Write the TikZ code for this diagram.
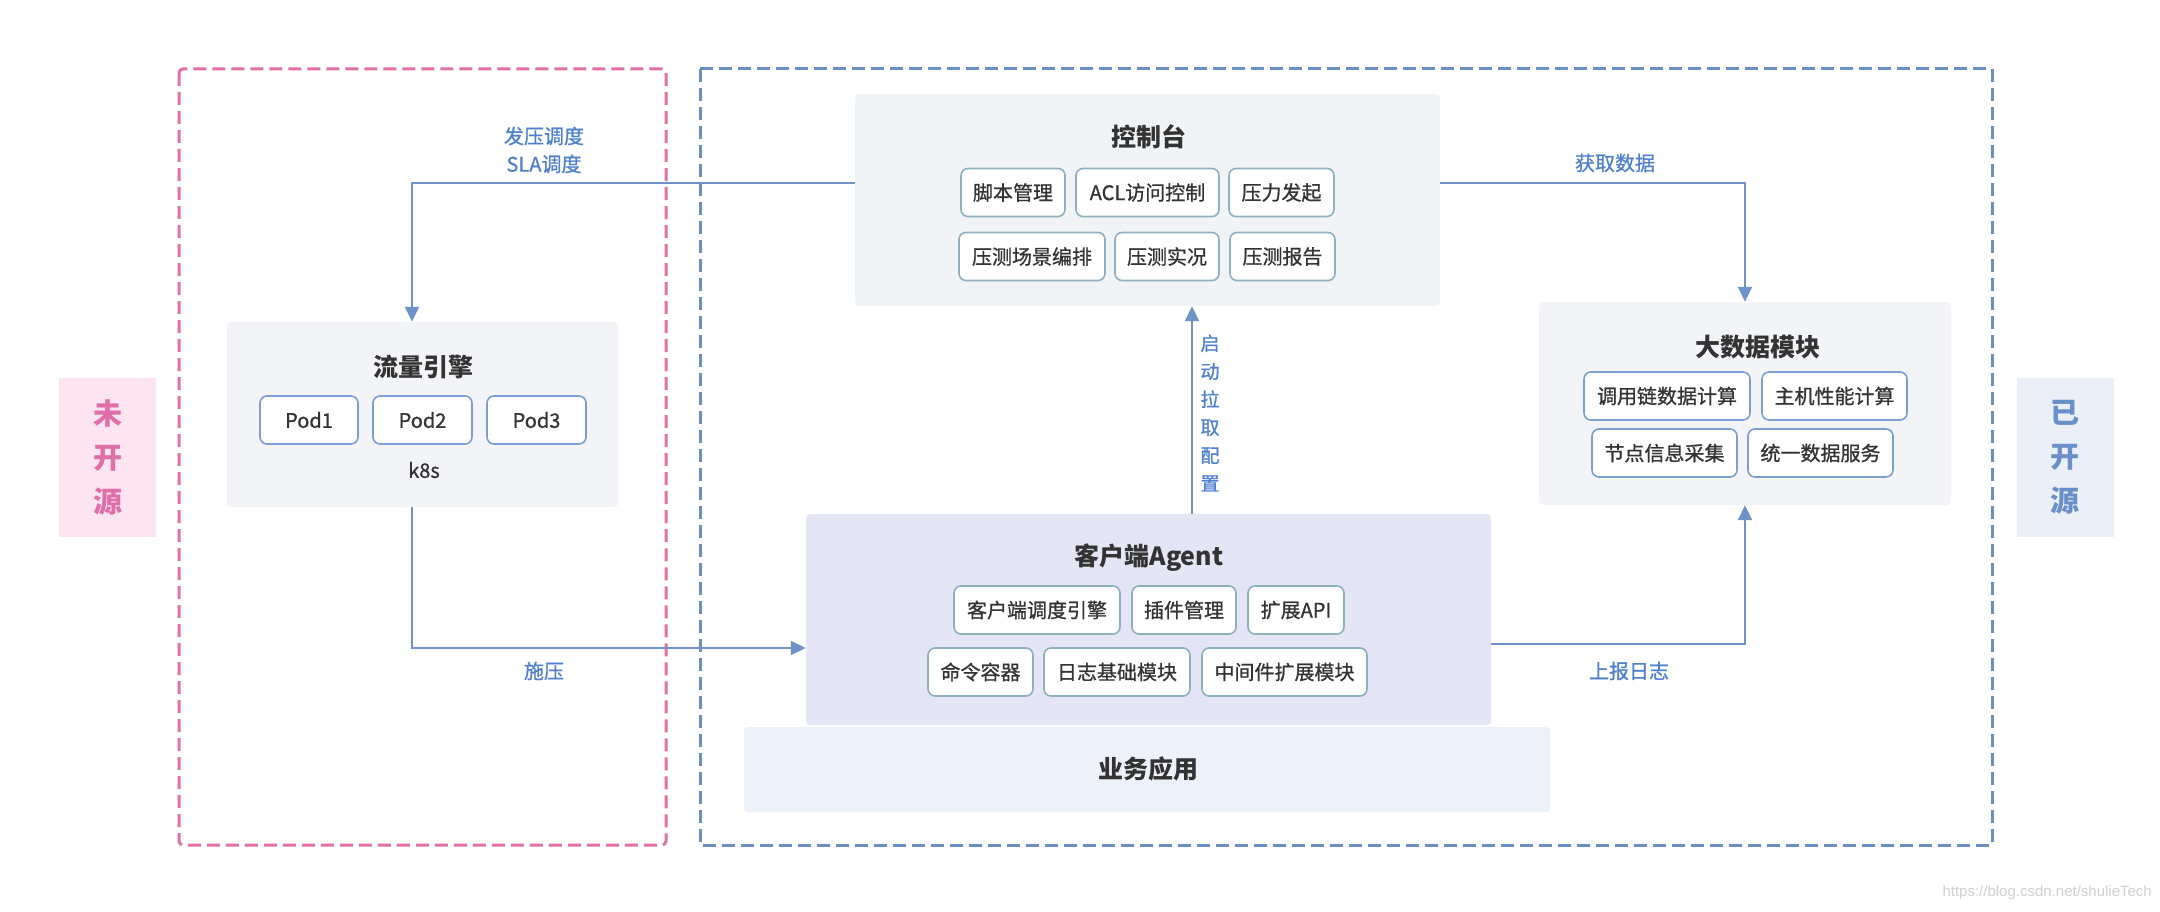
\documentclass[tikz,border=0pt]{standalone}
\usepackage{fontspec}
\setmainfont{Noto Sans CJK SC}
\newfontfamily\medfont[FakeBold=0.9]{Noto Sans CJK SC}
\newfontfamily\wmfont{Liberation Sans}
\usetikzlibrary{arrows.meta}
\definecolor{pinkline}{HTML}{E26FA5}
\definecolor{pinkfill}{HTML}{FCE4F0}
\definecolor{pinktext}{HTML}{E06FA8}
\definecolor{blueline}{HTML}{6A8FC4}
\definecolor{bluefill}{HTML}{EBF0F8}
\definecolor{bluetext}{HTML}{6B8FC8}
\definecolor{conncol}{HTML}{6F93C8}
\definecolor{labcol}{HTML}{4F80D0}
\definecolor{ctrlfill}{HTML}{F1F4F7}
\definecolor{grayfill}{HTML}{F3F4F8}
\definecolor{agentfill}{HTML}{E4E5F5}
\definecolor{bizfill}{HTML}{EDF1F9}
\definecolor{tealbd}{HTML}{8DB0C0}
\definecolor{bluebd}{HTML}{7A9FD0}
\definecolor{txt}{HTML}{333333}
\definecolor{wmgray}{HTML}{D0D0D0}
\begin{document}
\begin{tikzpicture}[x=1pt,y=-1pt,
  panel/.style={draw=none, rounded corners=4pt, inner sep=0pt},
  subbox/.style={fill=white, line width=1.6pt, rounded corners=7pt, minimum height=48pt, inner sep=0pt, text=txt, font=\medfont\fontsize{20}{20}\selectfont},
  tsub/.style={subbox, draw=tealbd},
  bsub/.style={subbox, draw=bluebd},
  title/.style={text=txt, inner sep=0pt, font=\fontsize{25}{25}\selectfont\bfseries},
  lab/.style={text=labcol, inner sep=0pt, align=center, font=\medfont\fontsize{20}{28}\selectfont},
  conn/.style={draw=conncol, line width=1.8pt, -{Triangle[width=14pt,length=15pt]}},
  side/.style={inner sep=0pt, minimum width=97pt, minimum height=159pt, align=center, font=\fontsize{29}{44}\selectfont\bfseries}
]
\useasboundingbox (0,0) rectangle (2160,912);
\fill[white] (0,0) rectangle (2160,912);

% side labels
\node[side, fill=pinkfill, text=pinktext] (closed) at (107.5,457.5) {未\\开\\源};
\node[side, fill=bluefill, text=bluetext] (open) at (2065,457.5) {已\\开\\源};

% dashed regions
\draw[pinkline, line width=3pt, dash pattern=on 13pt off 6pt, rounded corners=4pt] (179,69) rectangle (666,845);
\draw[blueline, line width=3pt, dash pattern=on 13pt off 6pt] (700,69) rectangle (1992,845);

% panels
\node[panel, fill=ctrlfill, minimum width=585pt, minimum height=212pt] (ctrl) at (1147.5,200) {};
\node[panel, fill=grayfill, minimum width=391pt, minimum height=185pt] (flow) at (422.5,414.5) {};
\node[panel, fill=grayfill, minimum width=412pt, minimum height=203pt] (big) at (1745,403.5) {};
\node[panel, fill=bizfill, minimum width=806pt, minimum height=85pt] (biz) at (1147,769.5) {};
\node[panel, fill=agentfill, minimum width=685pt, minimum height=211pt] (agent) at (1148.5,619.5) {};

% control console
\node[title] (ctrlt) at (1149,137) {控制台};
\node[tsub, minimum width=104pt] (c1) at (1013,192.5) {脚本管理};
\node[tsub, minimum width=143pt] (c2) at (1147.5,192.5) {ACL访问控制};
\node[tsub, minimum width=105pt] (c3) at (1281.5,192.5) {压力发起};
\node[tsub, minimum width=146pt] (c4) at (1032,256.5) {压测场景编排};
\node[tsub, minimum width=104pt] (c5) at (1167,256.5) {压测实况};
\node[tsub, minimum width=105pt] (c6) at (1282.5,256.5) {压测报告};

% flow engine
\node[title] (flowt) at (423,367) {流量引擎};
\node[bsub, minimum width=98pt] (p1) at (309,420) {Pod1};
\node[bsub, minimum width=99pt] (p2) at (422.5,420) {Pod2};
\node[bsub, minimum width=99pt] (p3) at (536.5,420) {Pod3};
\node[text=txt, inner sep=0pt, font=\medfont\fontsize{20}{20}\selectfont] (k8s) at (424,470) {k8s};

% big data
\node[title] (bigt) at (1758,347) {大数据模块};
\node[bsub, minimum width=166pt] (b1) at (1667,396) {调用链数据计算};
\node[bsub, minimum width=145pt] (b2) at (1834.5,396) {主机性能计算};
\node[bsub, minimum width=145pt] (b3) at (1664.5,453) {节点信息采集};
\node[bsub, minimum width=145pt] (b4) at (1820.5,453) {统一数据服务};

% agent
\node[title] (agentt) at (1149,558) {客户端Agent};
\node[tsub, minimum width=166pt] (a1) at (1037,610) {客户端调度引擎};
\node[tsub, minimum width=104pt] (a2) at (1184,610) {插件管理};
\node[tsub, minimum width=96pt] (a3) at (1296,610) {扩展API};
\node[tsub, minimum width=105pt] (a4) at (980.5,672) {命令容器};
\node[tsub, minimum width=146pt] (a5) at (1117,672) {日志基础模块};
\node[tsub, minimum width=165pt] (a6) at (1284.5,672) {中间件扩展模块};

% business
\node[text=txt, inner sep=0pt, font=\fontsize{25}{25}\selectfont\bfseries] (bizt) at (1148,769) {业务应用};

% connectors
\draw[conn] ([yshift=17pt]ctrl.west) -| ([xshift=-10.5pt]flow.north);
\draw[conn] ([xshift=-10.5pt]flow.south) |- ([yshift=-28.5pt]agent.west);
\draw[conn] ([xshift=43.5pt]agent.north) -- ([xshift=43.5pt]agent.north |- ctrl.south);
\draw[conn] ([yshift=17pt]ctrl.east) -| (big.north);
\draw[conn] ([yshift=-24.5pt]agent.east) -| (big.south);

% connector labels
\node[lab] (l1) at (544,150) {发压调度\\SLA调度};
\node[lab] (l2) at (1615,163) {获取数据};
\node[lab] (l3) at (544,671) {施压};
\node[lab] (l4) at (1629,671) {上报日志};
\node[lab, font=\medfont\fontsize{19}{28}\selectfont] (l5) at (1210,413) {启\\动\\拉\\取\\配\\置};

% watermark
\node[anchor=east, inner sep=0pt, text=wmgray, font=\wmfont\fontsize{15}{15}\selectfont] (wm) at (2152,893) {https://blog.csdn.net/shulieTech};
\end{tikzpicture}
\end{document}
